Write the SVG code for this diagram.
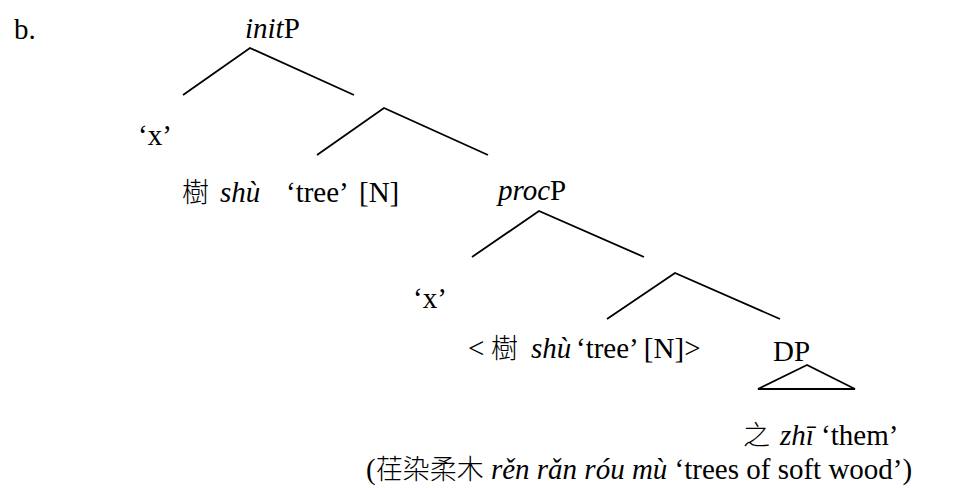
<svg xmlns="http://www.w3.org/2000/svg" width="962" height="488" viewBox="0 0 962 488">
<style>
text{font-family:"Liberation Serif","Noto Sans CJK TC",serif;font-size:29px;fill:#000}
.i{font-style:italic}
.c{font-family:"Noto Sans CJK TC","Noto Sans CJK SC",sans-serif;font-size:27px;font-weight:300}
.e{stroke:#000;stroke-width:1.8;fill:none;stroke-linejoin:miter}
</style>
<rect width="962" height="488" fill="#fff"/>
<text id="label" x="14" y="39">b.</text>
<g id="initP"><text x="245" y="38"><tspan class="i">init</tspan>P</text></g>
<g id="x1"><text x="138" y="145">‘x’</text></g>
<g id="shu1"><text y="202"><tspan class="c" x="182">樹</tspan><tspan class="i" x="220">shù</tspan><tspan x="286">‘tree’</tspan><tspan x="359">[N]</tspan></text></g>
<g id="procP"><text x="498" y="200"><tspan class="i">proc</tspan>P</text></g>
<g id="x2"><text x="413" y="308">‘x’</text></g>
<g id="shu2"><text y="358"><tspan x="468">&lt;</tspan><tspan class="c" x="491">樹</tspan><tspan class="i" x="531">shù</tspan><tspan x="576">‘tree’ [N]&gt;</tspan></text></g>
<g id="DP"><text x="773" y="361">DP</text><path class="e" d="M807 365 L758 389 L855 389 Z"/></g>
<g id="zhi"><text y="445"><tspan class="c" x="743">之</tspan><tspan class="i" x="780">zhī</tspan> ‘them’</text></g>
<g id="ren"><text x="366" y="479">(<tspan class="c">荏染柔木</tspan> <tspan class="i">rěn rǎn róu mù</tspan> ‘trees of soft wood’)</text></g>
<g id="edges">
<path class="e" d="M183 95 L250 48 L354 95"/>
<path class="e" d="M317 155 L384 108 L488 155"/>
<path class="e" d="M472 257 L539 211 L644 257"/>
<path class="e" d="M607 319 L675 273 L780 319"/>
</g>
</svg>
